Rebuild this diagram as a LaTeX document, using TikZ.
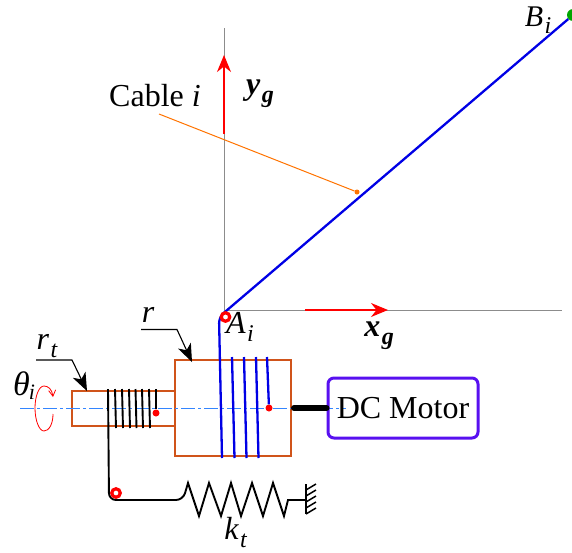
\documentclass[tikz,border=0pt]{standalone}
\usepackage{fontspec}
\setmainfont{Liberation Serif}
\usetikzlibrary{arrows.meta}
\definecolor{myorange}{RGB}{208,84,26}
\definecolor{mypurple}{RGB}{88,16,240}
\newcommand{\mysub}[1]{\kern1.5pt\raisebox{-0.24em}{\fontsize{24}{24}\selectfont #1}}
\begin{document}
\begin{tikzpicture}[%
                x=1pt, y=-1pt,
                mylabel/.style={inner sep=0pt, font=\fontsize{32}{32}\selectfont},
                myaxis/.style={draw=black!45, line width=1pt},
                myframe/.style={red, line width=1.5pt, -{Stealth[length=17pt, width=14pt]}},
                mybox/.style={draw=myorange, line width=1.8pt, inner sep=0pt, outer sep=0pt},
                mycable/.style={blue!90!black, line width=2.3pt},
                mycoil/.style={black, line width=1.9pt},
                myleader/.style={black, line width=1.1pt, -{Stealth[length=18pt, width=14pt, inset=5pt]}},
                mypulley/.style={shape=circle, draw=red, line width=3.2pt, fill=white, inner sep=0pt, minimum size=8.5pt},
                mypoint/.style={shape=circle, fill=red, inner sep=0pt, minimum size=7pt}
        ]
            \useasboundingbox (0,0) rectangle (572,552);
            % frame
            \coordinate (O) at (224,310);
            \coordinate (xend) at (562,310);
            \coordinate (yend) at (224,28);
            \draw [myaxis] (O) -- (xend);
            \draw [myaxis] (O) -- (yend);
            \coordinate (xa) at (305,310);
            \coordinate (xb) at (388,310);
            \coordinate (ya) at (224,134);
            \coordinate (yb) at (224,55);
            \draw [myframe] (xa) -- (xb);
            \draw [myframe] (ya) -- (yb);
            \node [mylabel, font=\fontsize{32}{32}\selectfont\bfseries\itshape] (xlabel) at (379,336) {x\mysub{g}};
            \node [mylabel, font=\fontsize{32}{32}\selectfont\bfseries\itshape] (ylabel) at (260,94) {y\mysub{g}};
            % drums
            \node [mybox, minimum width=103pt, minimum height=35pt] (shaft) at (123.5,408.5) {};
            \node [mybox, minimum width=116pt, minimum height=96pt] (drum) at (233,408) {};
            \coordinate (axisa) at (20,408);
            \coordinate (axisb) at (346,408);
            \draw [blue!60!cyan!80, line width=1pt, dash pattern=on 14pt off 3pt on 3pt off 3pt] (axisa) -- (axisb);
            % motor
            \node [mylabel, draw=mypurple, line width=3pt, rounded corners=6pt, minimum width=150pt, minimum height=60pt] (motor) at (403,408) {DC Motor};
            \draw [black, line width=6pt, line cap=round] (drum.east) ++(3,0) -- (motor.west);
            % cable
            \node [shape=circle, fill=green!65!black, inner sep=0pt, minimum size=12pt] (Bi) at (573,15) {};
            \coordinate (Ai) at (219,317);
            \coordinate (cableend) at (222,458);
            \draw [mycable, rounded corners=6pt] (Bi) -- (Ai) -- (cableend);
            \foreach \myx in {232,244,256} {
                \draw [mycable] (\myx,357) -- (\myx+2.5,458);
            }
            \node [mypoint] (cablefix) at (269,408) {};
            \coordinate (cabletop) at (267,357);
            \draw [mycable] (cabletop) -- (cablefix);
            \node [mypulley] (Aring) at (225.5,317) {};
            \node [mylabel, font=\fontsize{32}{32}\selectfont\itshape] (Ailabel) at (240,327) {A\mysub{i}};
            \node [mylabel, font=\fontsize{30}{30}\selectfont\itshape] (Bilabel) at (538,20) {B\mysub{i}};
            % torsion spring
            \foreach \myx in {115,122,129,135.5,142,149} {
                \draw [mycoil] (\myx,389) -- (\myx+1,428);
            }
            \node [mypoint] (coilfix) at (156,413) {};
            \coordinate (coiltop) at (156,389);
            \draw [mycoil] (coiltop) -- (coilfix);
            \coordinate (coilstart) at (108,389);
            \coordinate (corner) at (109,500);
            \coordinate (wall) at (306,500);
            \draw [mycoil, line join=miter, rounded corners=7pt] (coilstart) -- (corner) -- (183,500)
                [sharp corners] -- (188,483) -- (199,516) -- (209,483) -- (221,516) -- (231,483) -- (241,516)
                -- (252,483) -- (263,516) -- (273,483) -- (284,516) -- (288,500) -- (wall);
            \node [mypulley] (ring) at (116,493) {};
            \coordinate (walla) at (306,484);
            \coordinate (wallb) at (306,514);
            \draw [black, line width=1.9pt] (walla) -- (wallb);
            \foreach \myy in {490,496,502,508,514} {
                \draw [black, line width=1.5pt] (306,\myy) -- (316,\myy-6);
            }
            \node [mylabel, font=\fontsize{32}{32}\selectfont\itshape] (ktlabel) at (235.5,532.5) {k\mysub{t}};
            % leaders
            \coordinate (ra) at (141,329.5);
            \coordinate (rb) at (177,329.5);
            \coordinate (rc) at (192,362);
            \draw [myleader] (ra) -- (rb) -- (rc);
            \coordinate (rta) at (36,360);
            \coordinate (rtb) at (72,360);
            \coordinate (rtc) at (87,391);
            \draw [myleader] (rta) -- (rtb) -- (rtc);
            \node [mylabel, font=\fontsize{32}{32}\selectfont\itshape] (rlabel) at (148,315) {r};
            \node [mylabel, font=\fontsize{32}{32}\selectfont\itshape] (rtlabel) at (47,346) {r\mysub{t}};
            % rotation
            \node [mylabel, font=\fontsize{34}{34}\selectfont\itshape] (thetalabel) at (24,386) {θ\kern-1pt\raisebox{-0.12em}{\fontsize{22}{22}\selectfont i}};
            \coordinate (rota) at (53,414);
            \coordinate (rotb) at (53,397);
            \draw [red, line width=0.8pt, -{Straight Barb[length=6pt, width=7pt]}] (rota)
                .. controls (53,424) and (49,431) .. (44,431)
                .. controls (39,431) and (35,420) .. (35,408)
                .. controls (35,396) and (39,386) .. (44,386)
                .. controls (48,386) and (52,389) .. (rotb);
            % cable label
            \node [mylabel, anchor=west] (cablelabel) at (109,96) {Cable \textit{i}};
            \node [shape=circle, fill=orange!90!red, inner sep=0pt, minimum size=5pt] (cabledot) at (357,192) {};
            \coordinate (cablelead) at (159,114);
            \draw [orange!90!red, line width=1pt] (cablelead) -- (cabledot);
        \end{tikzpicture}
\end{document}
